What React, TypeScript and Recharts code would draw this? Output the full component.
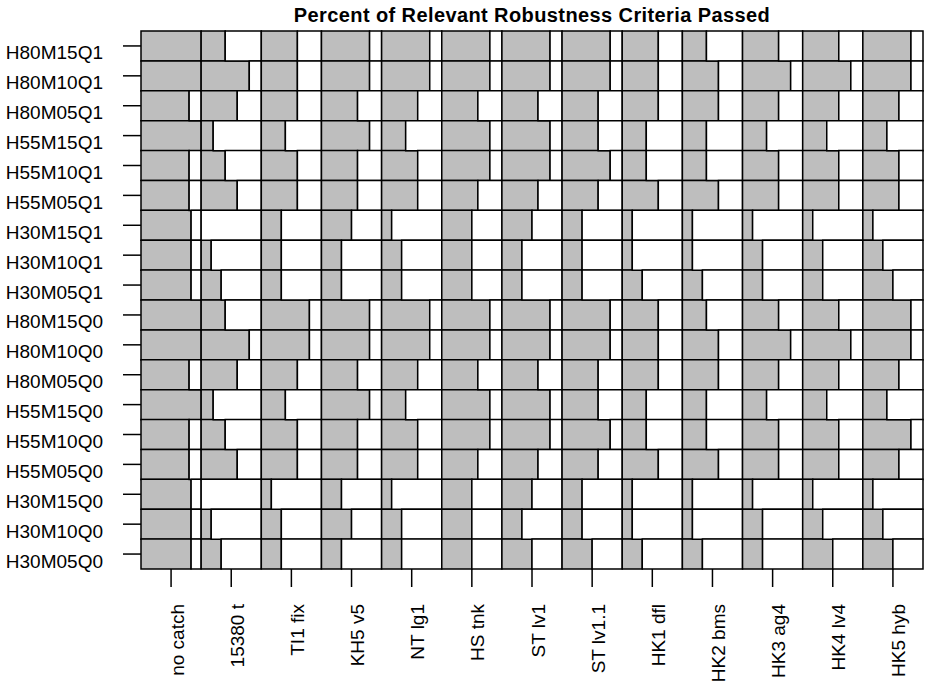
import { BarChart, Bar, XAxis, YAxis } from 'recharts'

const scenarios = [
  'H80M15Q1', 'H80M10Q1', 'H80M05Q1', 'H55M15Q1', 'H55M10Q1', 'H55M05Q1',
  'H30M15Q1', 'H30M10Q1', 'H30M05Q1', 'H80M15Q0', 'H80M10Q0', 'H80M05Q0',
  'H55M15Q0', 'H55M10Q0', 'H55M05Q0', 'H30M15Q0', 'H30M10Q0', 'H30M05Q0',
]

const methods = [
  'no catch', '15380 t', 'TI1 fix', 'KH5 v5', 'NT lg1', 'HS tnk', 'ST lv1',
  'ST lv1.1', 'HK1 dfl', 'HK2 bms', 'HK3 ag4', 'HK4 lv4', 'HK5 hyb',
]

// fraction of relevant criteria passed, one value per scenario (same order as above)
const noCatch = [1, 1, 0.8, 1, 0.8, 0.8, 0.833, 0.833, 0.833, 1, 1, 0.8, 1, 0.8, 0.8, 0.833, 0.833, 0.833]
const t15380 = [0.4, 0.8, 0.6, 0.2, 0.4, 0.6, 0, 0.167, 0.333, 0.4, 0.8, 0.6, 0.2, 0.4, 0.6, 0, 0.167, 0.333]
const ti1Fix = [0.6, 0.6, 0.6, 0.4, 0.6, 0.6, 0.333, 0.333, 0.333, 0.8, 0.8, 0.6, 0.4, 0.6, 0.6, 0.167, 0.333, 0.333]
const kh5v5 = [0.8, 0.8, 0.6, 0.8, 0.6, 0.6, 0.5, 0.333, 0.333, 0.8, 0.8, 0.6, 0.8, 0.6, 0.6, 0.333, 0.5, 0.333]
const ntLg1 = [0.8, 0.8, 0.6, 0.4, 0.6, 0.6, 0.167, 0.333, 0.333, 0.8, 0.8, 0.6, 0.4, 0.6, 0.6, 0.167, 0.333, 0.333]
const hsTnk = [0.8, 0.8, 0.6, 0.8, 0.8, 0.6, 0.5, 0.5, 0.5, 0.8, 0.8, 0.6, 0.8, 0.8, 0.6, 0.5, 0.5, 0.5]
const stLv1 = [0.8, 0.8, 0.6, 0.8, 0.8, 0.6, 0.5, 0.333, 0.333, 0.8, 0.8, 0.6, 0.8, 0.8, 0.6, 0.5, 0.333, 0.5]
const stLv11 = [0.8, 0.8, 0.6, 0.6, 0.8, 0.6, 0.333, 0.333, 0.333, 0.8, 0.8, 0.6, 0.6, 0.8, 0.6, 0.333, 0.333, 0.5]
const hk1Dfl = [0.6, 0.6, 0.6, 0.4, 0.4, 0.6, 0.167, 0.167, 0.333, 0.6, 0.6, 0.6, 0.4, 0.4, 0.6, 0.167, 0.167, 0.333]
const hk2Bms = [0.4, 0.6, 0.6, 0.4, 0.4, 0.6, 0.167, 0.167, 0.333, 0.4, 0.6, 0.6, 0.4, 0.4, 0.6, 0.167, 0.167, 0.333]
const hk3Ag4 = [0.6, 0.8, 0.6, 0.4, 0.6, 0.6, 0.167, 0.333, 0.333, 0.6, 0.8, 0.6, 0.4, 0.6, 0.6, 0.167, 0.333, 0.333]
const hk4Lv4 = [0.6, 0.8, 0.6, 0.4, 0.6, 0.6, 0.167, 0.333, 0.333, 0.6, 0.8, 0.6, 0.4, 0.6, 0.6, 0.167, 0.333, 0.5]
const hk5Hyb = [0.8, 0.8, 0.6, 0.4, 0.6, 0.6, 0.167, 0.333, 0.5, 0.8, 0.8, 0.6, 0.4, 0.8, 0.6, 0.167, 0.333, 0.5]

const columns = [noCatch, t15380, ti1Fix, kh5v5, ntLg1, hsTnk, stLv1, stLv11, hk1Dfl, hk2Bms, hk3Ag4, hk4Lv4, hk5Hyb]

const FONT = '"Liberation Sans", Arial, sans-serif'

// each method gets one unit on the x scale: gray = passed, white = rest
const data = scenarios.map((row, i) => {
  const d: Record<string, string | number> = { row }
  columns.forEach((col, j) => {
    d[`g${j}`] = col[i]
    d[`w${j}`] = 1 - col[i]
  })
  return d
})

const xTicks = methods.map((_, i) => i + 0.5)

function YTick({ x, y, payload }: any) {
  return (
    <text x={x} y={y + 13.5} textAnchor="end" fontSize={19} fontFamily={FONT} fill="#000">
      {payload.value}
    </text>
  )
}

function XTick({ x, y, payload }: any) {
  return (
    <text
      x={x}
      y={y}
      dy={12.5}
      transform={`rotate(-90 ${x} ${y})`}
      textAnchor="end"
      fontSize={19}
      fontFamily={FONT}
      fill="#000"
    >
      {methods[Math.floor(payload.value)]}
    </text>
  )
}

export default function App() {
  return (
    <div style={{ position: 'absolute', left: 0, top: 0, width: 926, height: 684, background: '#fff' }}>
      <svg width={926} height={30} style={{ position: 'absolute', left: 0, top: 0 }}>
        <text x={532} y={22} textAnchor="middle" fontSize={20} fontWeight="bold" fontFamily={FONT} letterSpacing={0.4}>
          Percent of Relevant Robustness Criteria Passed
        </text>
      </svg>
      <BarChart
        width={926}
        height={684}
        data={data}
        layout="vertical"
        margin={{ top: 31, right: 3, bottom: 0, left: 0 }}
        barCategoryGap={0}
        barGap={0}
      >
        <XAxis
          type="number"
          domain={[0, 13]}
          ticks={xTicks}
          interval={0}
          height={115}
          axisLine={false}
          tickSize={18}
          tickMargin={17}
          tickLine={{ stroke: '#000', strokeWidth: 1.5 }}
          tick={<XTick />}
        />
        <YAxis
          type="category"
          dataKey="row"
          width={141}
          interval={0}
          axisLine={false}
          tickSize={18}
          tickMargin={20}
          tickLine={{ stroke: '#000', strokeWidth: 1.5 }}
          tick={<YTick />}
        />
        {columns.flatMap((_, j) => [
          <Bar
            key={`g${j}`}
            dataKey={`g${j}`}
            stackId="s"
            fill="#bebebe"
            stroke="#000"
            strokeWidth={1.5}
            isAnimationActive={false}
          />,
          <Bar
            key={`w${j}`}
            dataKey={`w${j}`}
            stackId="s"
            fill="#ffffff"
            stroke="#000"
            strokeWidth={1.5}
            isAnimationActive={false}
          />,
        ])}
      </BarChart>
    </div>
  )
}
